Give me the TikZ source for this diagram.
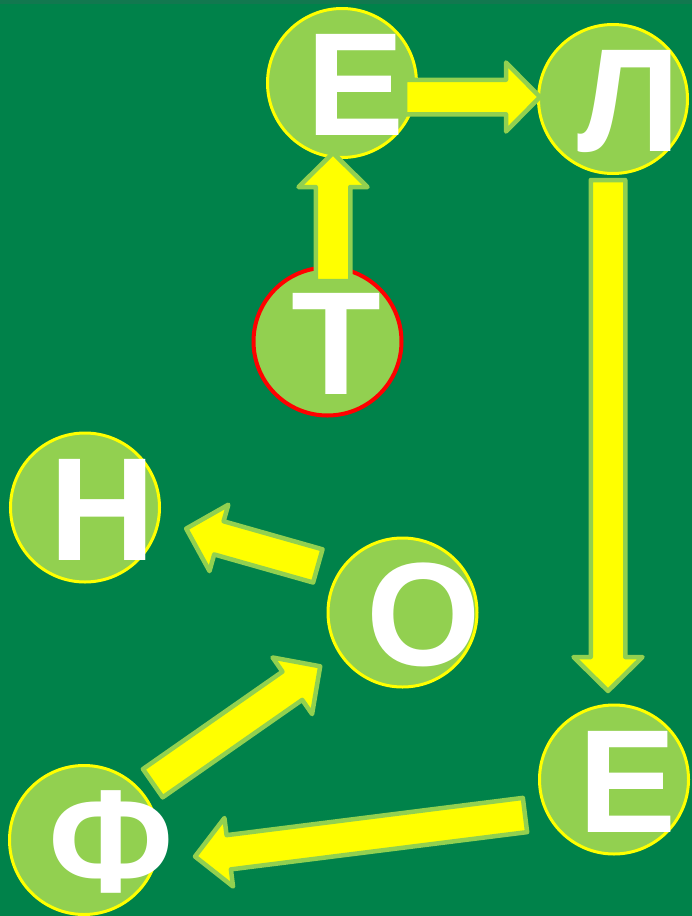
\documentclass[tikz,border=0pt]{standalone}
\usepackage{fontspec}
\setmainfont{Liberation Sans}
\usetikzlibrary{positioning,calc}
\definecolor{boardgreen}{HTML}{00824A}
\definecolor{topgreen}{HTML}{12784F}
\definecolor{discgreen}{HTML}{92D050}
\definecolor{arrowyellow}{HTML}{FFFF00}
\definecolor{startred}{HTML}{FF0000}

% block arrow from one named point to another
\newcommand{\blockarrow}[2]{%
  \coordinate (ba-head) at ($(#2)!34pt!(#1)$);
  \filldraw[blockarr] ($(#1)!17.25pt!90:(#2)$) -- ($(ba-head)!17.25pt!-90:(#1)$)
    -- ($(ba-head)!34.5pt!-90:(#1)$) -- (#2) -- ($(ba-head)!34.5pt!90:(#1)$)
    -- ($(ba-head)!17.25pt!90:(#1)$) -- ($(#1)!17.25pt!-90:(#2)$) -- cycle;
}

\begin{document}
\begin{tikzpicture}[
    x=1pt, y=-1pt,
    disc/.style={circle, minimum size=149pt, inner sep=0pt, fill=discgreen, draw=arrowyellow, line width=3pt},
    firstdisc/.style={disc, draw=startred, line width=4pt, minimum size=148pt},
    letter/.style={anchor=base west, inner sep=0pt, text depth=0pt, text=white, font=\fontsize{147}{147}\selectfont\bfseries},
    blockarr/.style={fill=arrowyellow, draw=discgreen, line width=4.5pt, line join=round}
]

% --- board ---
\useasboundingbox (0,0) rectangle (692,916);
\fill[boardgreen] (0,0) rectangle (692,916);
\fill[topgreen] (0,0) rectangle (692,4);

% --- discs ---
\node[firstdisc] (t)  at (327.5,341.5) {};
\node[disc]      (e1) at (342,83) {};
\node[disc]      (l)  at (613,99) {};
\node[disc]      (e2) at (614,779.5) {};
\node[disc]      (f)  at (84,840) {};
\node[disc]      (o)  at (402.5,612.5) {};
\node[disc]      (n)  at (85,507.5) {};

% --- arrow ends, taken from the discs ---
\coordinate (t-out)  at ($(t)+(5.5,-60.5)$);
\coordinate (e1-in)  at ($(e1)+(-9,70)$);
\coordinate (e1-out) at ($(e1)+(63,14)$);
\coordinate (l-in)   at ($(l)+(-73,-2)$);
\coordinate (l-out)  at ($(l)+(-5,81)$);
\coordinate (e2-in)  at ($(e2)+(-6,-88.5)$);
\coordinate (e2-out) at ($(e2)+(-89,35.5)$);
\coordinate (f-in)   at ($(f)+(111,16.5)$);
\coordinate (f-out)  at ($(f)+(68.8,-56.8)$);
\coordinate (o-in)   at ($(o)+(-82.3,53.8)$);
\coordinate (o-out)  at ($(o)+(-84.7,-46.6)$);
\coordinate (n-in)   at ($(n)+(101.2,21.1)$);

% --- arrows ---
\blockarrow{t-out}{e1-in}
\blockarrow{e1-out}{l-in}
\blockarrow{l-out}{e2-in}
\blockarrow{e2-out}{f-in}
\blockarrow{f-out}{o-in}
\blockarrow{o-out}{n-in}

% --- letters ---
\node[letter] (t-txt)  at ($(t)+(-36,52.5)$)  {Т};
\node[letter] (e1-txt) at ($(e1)+(-36,52.5)$) {Е};
\node[letter] (l-txt)  at ($(l)+(-36,52.5)$)  {Л};
\node[letter] (e2-txt) at ($(e2)+(-36,52.5)$) {Е};
\node[letter] (f-txt)  at ($(f)+(-36,52.5)$)  {Ф};
\node[letter] (o-txt)  at ($(o)+(-36,52.5)$)  {О};
\node[letter] (n-txt)  at ($(n)+(-36,52.5)$)  {Н};

\end{tikzpicture}
\end{document}
